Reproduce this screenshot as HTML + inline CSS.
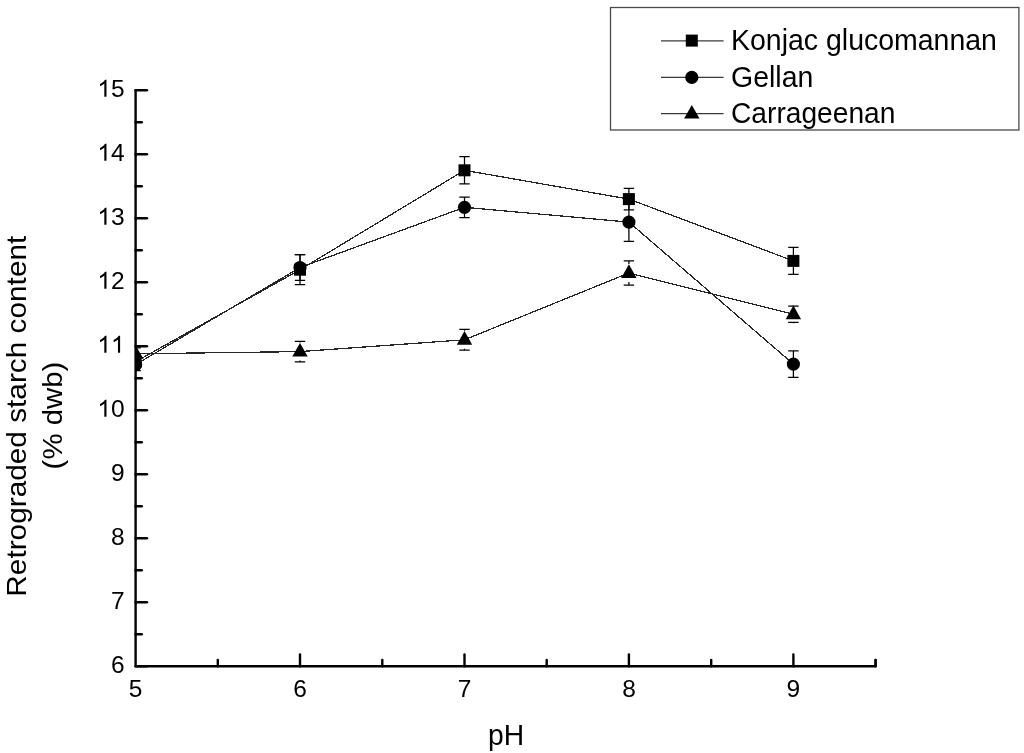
<!DOCTYPE html><html><head><meta charset="utf-8"><style>html,body{margin:0;padding:0;background:#fff;overflow:hidden;}svg{display:block;will-change:transform;}</style></head><body>
<svg width="1024" height="753" viewBox="0 0 1024 753">
<defs><clipPath id="c"><rect x="135.6" y="0" width="900" height="753"/></clipPath></defs>
<rect width="1024" height="753" fill="#fff"/>
<g stroke="#000" stroke-width="2.4" fill="none" stroke-linejoin="round" stroke-linecap="round">
<path d="M135.6 90.2 V666.3 H875.6 V660"/>
<path d="M135.6 90.2 H147"/>
</g>
<g stroke="#000" stroke-width="2.4" fill="none" stroke-linecap="round">
<path d="M135.6 154.2 H147"/>
<path d="M135.6 218.2 H147"/>
<path d="M135.6 282.2 H147"/>
<path d="M135.6 346.2 H147"/>
<path d="M135.6 410.2 H147"/>
<path d="M135.6 474.2 H147"/>
<path d="M135.6 538.2 H147"/>
<path d="M135.6 602.2 H147"/>
<path d="M135.6 666.2 H147"/>
<path d="M135.6 122.2 H141.8"/>
<path d="M135.6 186.2 H141.8"/>
<path d="M135.6 250.2 H141.8"/>
<path d="M135.6 314.2 H141.8"/>
<path d="M135.6 378.2 H141.8"/>
<path d="M135.6 442.2 H141.8"/>
<path d="M135.6 506.2 H141.8"/>
<path d="M135.6 570.2 H141.8"/>
<path d="M135.6 634.2 H141.8"/>
<path d="M217.8 666.3 V660"/>
<path d="M300.0 666.3 V654.5"/>
<path d="M382.3 666.3 V660"/>
<path d="M464.5 666.3 V654.5"/>
<path d="M546.7 666.3 V660"/>
<path d="M628.9 666.3 V654.5"/>
<path d="M711.2 666.3 V660"/>
<path d="M793.4 666.3 V654.5"/>
<path d="M875.6 666.3 V660"/>
</g>
<g font-family="Liberation Sans, sans-serif" font-size="24.5" fill="#000">
<path d="M106.48 96.80L104.32 96.80L104.32 83.49Q103.55 84.21 102.31 84.92Q101.07 85.63 100.02 86.01L100.02 83.99Q101.82 83.17 103.16 82.02Q104.49 80.87 105.09 79.79L106.48 79.79Z" fill="#000"/>
<text x="110.97" y="96.8">5</text>
<path d="M106.48 160.80L104.32 160.80L104.32 147.49Q103.55 148.21 102.31 148.92Q101.07 149.63 100.02 150.01L100.02 147.99Q101.82 147.17 103.16 146.02Q104.49 144.87 105.09 143.79L106.48 143.79Z" fill="#000"/>
<text x="110.97" y="160.8">4</text>
<path d="M106.48 224.80L104.32 224.80L104.32 211.49Q103.55 212.21 102.31 212.92Q101.07 213.63 100.02 214.01L100.02 211.99Q101.82 211.17 103.16 210.02Q104.49 208.87 105.09 207.79L106.48 207.79Z" fill="#000"/>
<text x="110.97" y="224.8">3</text>
<path d="M106.48 288.80L104.32 288.80L104.32 275.49Q103.55 276.21 102.31 276.92Q101.07 277.63 100.02 278.01L100.02 275.99Q101.82 275.17 103.16 274.02Q104.49 272.87 105.09 271.79L106.48 271.79Z" fill="#000"/>
<text x="110.97" y="288.8">2</text>
<path d="M106.48 352.80L104.32 352.80L104.32 339.49Q103.55 340.21 102.31 340.92Q101.07 341.63 100.02 342.01L100.02 339.99Q101.82 339.17 103.16 338.02Q104.49 336.87 105.09 335.79L106.48 335.79Z" fill="#000"/>
<path d="M120.10 352.80L117.95 352.80L117.95 339.49Q117.17 340.21 115.93 340.92Q114.69 341.63 113.64 342.01L113.64 339.99Q115.45 339.17 116.78 338.02Q118.12 336.87 118.71 335.79L120.10 335.79Z" fill="#000"/>
<path d="M106.48 416.80L104.32 416.80L104.32 403.49Q103.55 404.21 102.31 404.92Q101.07 405.63 100.02 406.01L100.02 403.99Q101.82 403.17 103.16 402.02Q104.49 400.87 105.09 399.79L106.48 399.79Z" fill="#000"/>
<text x="110.97" y="416.8">0</text>
<text x="110.97" y="480.8">9</text>
<text x="110.97" y="544.8">8</text>
<text x="110.97" y="608.8">7</text>
<text x="110.97" y="672.8">6</text>
<text x="128.79" y="697.0">5</text>
<text x="293.24" y="697.0">6</text>
<text x="457.69" y="697.0">7</text>
<text x="622.14" y="697.0">8</text>
<text x="786.59" y="697.0">9</text>
</g>
<text font-family="Liberation Sans, sans-serif" font-size="30.4" transform="translate(506 744.6) scale(0.93 1)" text-anchor="middle">pH</text>
<text font-family="Liberation Sans, sans-serif" font-size="29.8" transform="translate(26,416.2) scale(0.93,1) rotate(-90)" text-anchor="middle">Retrograded starch content</text>
<text font-family="Liberation Sans, sans-serif" font-size="29.4" transform="translate(61.6,415.5) scale(0.91,1) rotate(-90)" text-anchor="middle">(% dwb)</text>
<g clip-path="url(#c)">
<polyline points="135.6,361.7 300.0,269.7 464.5,170.3 628.9,199.1 793.4,260.9" fill="none" stroke="#262626" stroke-width="1.25" shape-rendering="crispEdges"/>
<path d="M135.6 355.7 V356.7 M135.6 366.7 V367.7 M130.4 355.7 H140.8 M130.4 367.7 H140.8" stroke="#000" stroke-width="1.25" fill="none"/>
<rect x="129.6" y="355.7" width="12" height="12" fill="#000"/>
<path d="M300.0 254.7 V264.7 M300.0 274.7 V284.7 M294.8 254.7 H305.2 M294.8 284.7 H305.2" stroke="#000" stroke-width="1.25" fill="none"/>
<rect x="294.0" y="263.7" width="12" height="12" fill="#000"/>
<path d="M464.5 156.7 V165.3 M464.5 175.3 V183.9 M459.3 156.7 H469.7 M459.3 183.9 H469.7" stroke="#000" stroke-width="1.25" fill="none"/>
<rect x="458.5" y="164.3" width="12" height="12" fill="#000"/>
<path d="M628.9 188.3 V194.1 M628.9 204.1 V209.9 M623.7 188.3 H634.1 M623.7 209.9 H634.1" stroke="#000" stroke-width="1.25" fill="none"/>
<rect x="622.9" y="193.1" width="12" height="12" fill="#000"/>
<path d="M793.4 247.4 V255.9 M793.4 265.9 V274.4 M788.2 247.4 H798.6 M788.2 274.4 H798.6" stroke="#000" stroke-width="1.25" fill="none"/>
<rect x="787.4" y="254.9" width="12" height="12" fill="#000"/>
<polyline points="135.6,364.6 300.0,267.5 464.5,207.3 628.9,222.1 793.4,364.1" fill="none" stroke="#262626" stroke-width="1.25" shape-rendering="crispEdges"/>
<path d="M135.6 358.6 V359.6 M135.6 369.6 V370.6 M130.4 358.6 H140.8 M130.4 370.6 H140.8" stroke="#000" stroke-width="1.25" fill="none"/>
<circle cx="135.6" cy="364.6" r="6.6" fill="#000"/>
<path d="M300.0 254.6 V262.5 M300.0 272.5 V280.4 M294.8 254.6 H305.2 M294.8 280.4 H305.2" stroke="#000" stroke-width="1.25" fill="none"/>
<circle cx="300.0" cy="267.5" r="6.6" fill="#000"/>
<path d="M464.5 197.0 V202.3 M464.5 212.3 V217.7 M459.3 197.0 H469.7 M459.3 217.7 H469.7" stroke="#000" stroke-width="1.25" fill="none"/>
<circle cx="464.5" cy="207.3" r="6.6" fill="#000"/>
<path d="M628.9 202.9 V217.1 M628.9 227.1 V241.3 M623.7 202.9 H634.1 M623.7 241.3 H634.1" stroke="#000" stroke-width="1.25" fill="none"/>
<circle cx="628.9" cy="222.1" r="6.6" fill="#000"/>
<path d="M793.4 350.9 V359.1 M793.4 369.1 V377.3 M788.2 350.9 H798.6 M788.2 377.3 H798.6" stroke="#000" stroke-width="1.25" fill="none"/>
<circle cx="793.4" cy="364.1" r="6.6" fill="#000"/>
<polyline points="135.6,353.8 300.0,351.6 464.5,339.8 628.9,273.0 793.4,314.3" fill="none" stroke="#262626" stroke-width="1.25" shape-rendering="crispEdges"/>
<path d="M135.6 347.8 V344.8 M135.6 362.8 V359.8 M130.4 347.8 H140.8 M130.4 359.8 H140.8" stroke="#000" stroke-width="1.25" fill="none"/>
<path d="M135.6 345.1 L143.3 358.8 L127.9 358.8 Z" fill="#000"/>
<path d="M300.0 341.4 V342.6 M300.0 360.6 V361.8 M294.8 341.4 H305.2 M294.8 361.8 H305.2" stroke="#000" stroke-width="1.25" fill="none"/>
<path d="M300.0 342.9 L307.7 356.6 L292.3 356.6 Z" fill="#000"/>
<path d="M464.5 329.4 V330.8 M464.5 348.8 V350.1 M459.3 329.4 H469.7 M459.3 350.1 H469.7" stroke="#000" stroke-width="1.25" fill="none"/>
<path d="M464.5 331.1 L472.2 344.8 L456.8 344.8 Z" fill="#000"/>
<path d="M628.9 260.9 V264.0 M628.9 282.0 V285.1 M623.7 260.9 H634.1 M623.7 285.1 H634.1" stroke="#000" stroke-width="1.25" fill="none"/>
<path d="M628.9 264.3 L636.6 278.0 L621.2 278.0 Z" fill="#000"/>
<path d="M793.4 306.2 V305.3 M793.4 323.3 V322.4 M788.2 306.2 H798.6 M788.2 322.4 H798.6" stroke="#000" stroke-width="1.25" fill="none"/>
<path d="M793.4 305.6 L801.1 319.3 L785.7 319.3 Z" fill="#000"/>
</g>
<rect x="610.5" y="7.5" width="408.4" height="122.5" fill="none" stroke="#4a4a4a" stroke-width="1.3"/>
<path d="M661 40.9 H723.6" stroke="#3a3a3a" stroke-width="1.3"/>
<rect x="685.8" y="34.6" width="12" height="12" fill="#000"/>
<text font-family="Liberation Sans, sans-serif" font-size="29" transform="translate(731 50.1) scale(0.982 1)">Konjac glucomannan</text>
<path d="M661 77.4 H723.6" stroke="#3a3a3a" stroke-width="1.3"/>
<circle cx="691.8" cy="77.4" r="6.6" fill="#000"/>
<text font-family="Liberation Sans, sans-serif" font-size="29" transform="translate(731 87.3) scale(0.982 1)">Gellan</text>
<path d="M661 113.6 H723.6" stroke="#3a3a3a" stroke-width="1.3"/>
<path d="M691.8 104.9 L699.5 118.6 L684.1 118.6 Z" fill="#000"/>
<text font-family="Liberation Sans, sans-serif" font-size="29" transform="translate(731 122.6) scale(0.972 1)">Carrageenan</text>
</svg></body></html>
